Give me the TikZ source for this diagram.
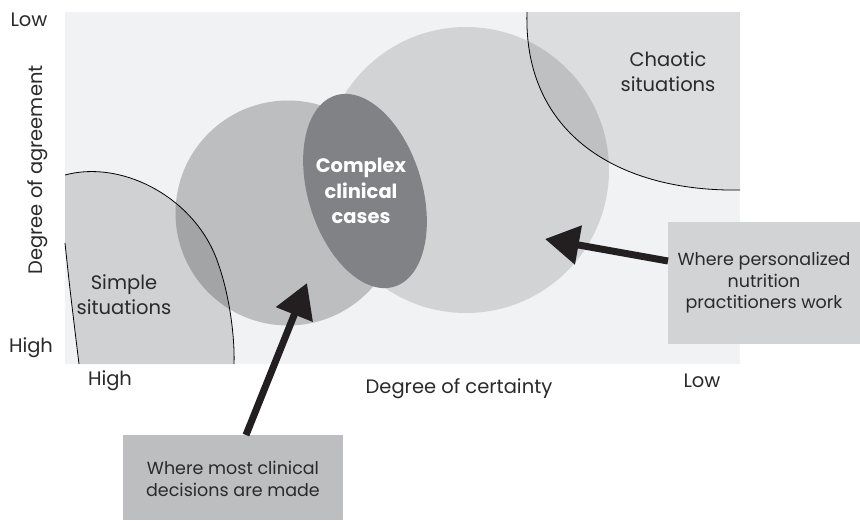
\documentclass[tikz,border=0pt]{standalone}
\usepackage{fontspec}
\setmainfont{Poppins}
\usetikzlibrary{arrows.meta}
\definecolor{bgplot}{HTML}{F1F2F3}
\definecolor{lightg}{HTML}{D1D3D4}
\definecolor{midg}{HTML}{BCBEC0}
\definecolor{darkg}{HTML}{808285}
\definecolor{txt}{HTML}{2A2A2A}
\definecolor{arrowc}{HTML}{231F20}
\tikzset{
  axislbl/.style={font=\fontsize{19.5}{22}\selectfont, text=txt, inner sep=0pt},
  regionlbl/.style={font=\fontsize{19.5}{25}\selectfont, text=txt, align=center, inner sep=0pt},
  boxlbl/.style={font=\fontsize{17.5}{21.5}\selectfont, text=txt, align=center, inner sep=0pt},
  outline/.style={draw=black, line width=0.8pt},
  bigarrow/.style={draw=arrowc, line width=7pt, -{Triangle[length=34pt,width=38pt]}, shorten >=0pt},
}
\begin{document}
\begin{tikzpicture}[x=1pt,y=-1pt]
\useasboundingbox[fill=white] (0,0) rectangle (860,520);
% plot area
\fill[bgplot] (65,12) rectangle (740,364);
% big circle
\fill[lightg] (466,170) circle[radius=143];
% chaotic region
\fill[black, fill opacity=0.087] (527,12) .. controls (523,135) and (620,192) .. (740,190) -- (740,12) -- cycle;
\draw[outline] (527,12) .. controls (523,135) and (620,192) .. (740,190);
% medium circle
\fill[midg] (288,213) circle[radius=112.5];
% simple region
\fill[black, fill opacity=0.133] (65,175) .. controls (120,160) and (190,195) .. (215,255)
   .. controls (230,292) and (235,340) .. (234,364) -- (79,364) .. controls (70,290) .. (65,243) -- cycle;
\draw[outline] (65,175) .. controls (120,160) and (190,195) .. (215,255)
   .. controls (230,292) and (235,340) .. (234,364);
\draw[outline] (79,364) .. controls (70,290) .. (65,243);
% complex ellipse
\fill[darkg, shift={(365,191)}, rotate=17] (0,0) ellipse[x radius=57, y radius=100];
\node[font=\fontsize{19.5}{25.5}\selectfont\bfseries, text=white, align=center, inner sep=0pt] (complex) at (361,191) {Complex\\clinical\\cases};
% region labels
\node[regionlbl] (simple) at (124,295) {Simple\\situations};
\node[regionlbl] (chaotic) at (668,72) {Chaotic\\situations};
% axis labels
\node[axislbl] (ylow) at (29,20) {Low};
\node[axislbl] (yhigh) at (31,348) {High};
\node[axislbl, rotate=90] (ylab) at (38,170) {Degree of agreement};
\node[axislbl] (xhigh) at (110,381) {High};
\node[axislbl] (xlow) at (702,381) {Low};
\node[axislbl] (xlab) at (459,389) {Degree of certainty};
% boxes
\node[fill=lightg, minimum width=192pt, minimum height=122pt, inner sep=0pt] (rbox) at (764,283) {};
\node[boxlbl] (rtxt) at (rbox.center) {Where personalized\\nutrition\\practitioners work};
\node[fill=midg, minimum width=220pt, minimum height=85pt, inner sep=0pt] (bbox) at (233,477.5) {};
\node[boxlbl] (btxt) at (233,479) {Where most clinical\\decisions are made};
% arrows
\coordinate (tipA) at (307,283);
\coordinate (tipB) at (545,239);
\coordinate (tailA) at (246,435);
\coordinate (tailB) at (668,261);
\draw[bigarrow] (tailA) -- (tipA);
\draw[bigarrow] (tailB) -- (tipB);
\end{tikzpicture}
\end{document}
